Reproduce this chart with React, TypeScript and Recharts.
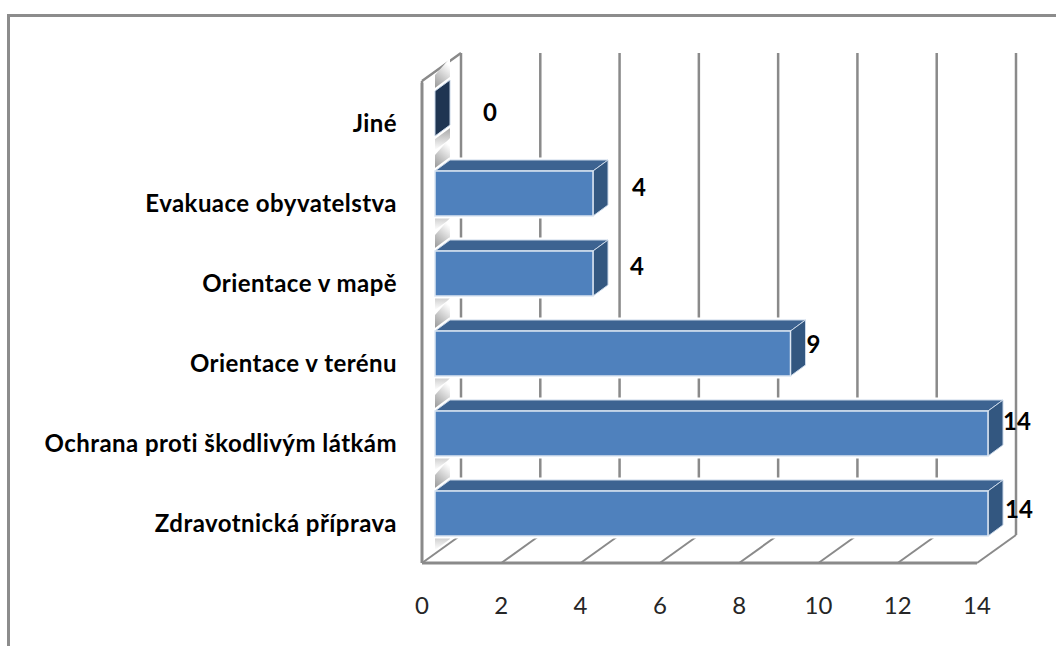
import { Bar, BarChart, CartesianGrid, LabelList, XAxis, YAxis } from "recharts";

const categories = [
  "Jiné",
  "Evakuace obyvatelstva",
  "Orientace v mapě",
  "Orientace v terénu",
  "Ochrana proti škodlivým látkám",
  "Zdravotnická příprava",
];
const counts = [0, 4, 4, 9, 14, 14];
const xTicks = [0, 2, 4, 6, 8, 10, 12, 14];

// the value labels were dragged by hand in the original
const labelNudgeX = [55, 46, 44, 23, 29, 31];
const labelNudgeY = [-2, -7, -8, -10, -13, -5];

const rows = categories.map((name, i) => ({ name, count: counts[i] }));

const FONT = "Lato, Carlito, sans-serif";
const GRID = "#8a8a8a";
// fake 3d: wall depth, and how far the bars sit in from the front plane
const DEPTH_X = 39;
const DEPTH_Y = -28;
const BAR_IN_X = 13;
const BAR_IN_Y = -10;
const BAR_DX = 15;
const BAR_DY = -11;
const BAR_SCALE = 0.9964; // bars sit further back, so they come out a bit shorter
const WALL_EXTRA = 2;

function GridLine(props: any) {
  const { x1, y1, y2 } = props;
  const isZero = x1 < 425;
  const wallTop = y1 - WALL_EXTRA;
  return (
    <g fill="none" stroke={GRID}>
      <path
        d={`M${x1},${y2} L${x1 + DEPTH_X},${y2 + DEPTH_Y}`}
        strokeWidth={2}
      />
      <path
        d={`M${x1 + DEPTH_X},${y2 + DEPTH_Y} L${x1 + DEPTH_X},${wallTop + DEPTH_Y}`}
        strokeWidth={2.5}
      />
      {isZero && (
        <path
          d={`M${x1},${wallTop} L${x1 + DEPTH_X},${wallTop + DEPTH_Y} M${x1},${wallTop} L${x1},${y1}`}
          strokeWidth={2.5}
        />
      )}
    </g>
  );
}

function Bar3D(props: any) {
  const { x, y, width, height } = props;
  const left = x + BAR_IN_X;
  const top = y + BAR_IN_Y;
  const right = left + width * BAR_SCALE;
  const bottom = top + height;
  const sideFill = width === 0 ? "#1f3552" : "#335780";
  return (
    <g>
      {/* shaded patches on the side wall */}
      <path
        d={`M${left},${bottom} L${left + BAR_DX},${bottom + BAR_DY} L${left + BAR_DX},${bottom + BAR_DY + 14} L${left},${bottom + 14} Z`}
        fill="url(#wallShadeBelow)"
      />
      <path
        d={`M${left},${top} L${left + BAR_DX},${top + BAR_DY} L${left + BAR_DX},${top + BAR_DY - 22} L${left},${top - 16} Z`}
        fill="url(#wallShadeAbove)"
      />
      <path
        d={`M${left},${top} L${left + BAR_DX},${top + BAR_DY} L${right + BAR_DX},${top + BAR_DY} L${right + BAR_DX},${bottom + BAR_DY} L${right},${bottom} L${left},${bottom} Z`}
        fill="none"
        stroke="#ffffff"
        strokeWidth={5}
      />
      {width > 0 && (
        <path
          d={`M${left},${top} L${left + BAR_DX},${top + BAR_DY} L${right + BAR_DX},${top + BAR_DY} L${right},${top} Z`}
          fill="#3d6391"
          stroke="#c9d7e8"
          strokeWidth={1}
        />
      )}
      <path
        d={`M${right},${top} L${right + BAR_DX},${top + BAR_DY} L${right + BAR_DX},${bottom + BAR_DY} L${right},${bottom} Z`}
        fill={sideFill}
        stroke="#c9d7e8"
        strokeWidth={1}
      />
      {width > 0 && (
        <rect
          x={left}
          y={top}
          width={right - left}
          height={height}
          fill="#4f81bd"
          stroke="#dce6f2"
          strokeWidth={1.5}
        />
      )}
    </g>
  );
}

function ValueLabel(props: any) {
  const { x, y, width, height, value, index } = props;
  return (
    <text
      x={x + width * BAR_SCALE + BAR_IN_X + labelNudgeX[index]}
      y={y + height / 2 + BAR_IN_Y + labelNudgeY[index]}
      textAnchor="middle"
      dominantBaseline="central"
      fontFamily={FONT}
      fontWeight={700}
      fontSize={24}
      fill="#000000"
    >
      {value}
    </text>
  );
}

export default function App() {
  return (
    <div
      style={{
        position: "absolute",
        left: 0,
        top: 0,
        width: 1056,
        height: 646,
        background: "#ffffff",
        overflow: "hidden",
      }}
    >
      <div
        style={{
          position: "absolute",
          left: 7,
          top: 14,
          width: 1049,
          height: 632,
          boxSizing: "border-box",
          borderTop: "3px solid #8c8c8c",
          borderLeft: "3px solid #8c8c8c",
        }}
      />
      <div style={{ position: "absolute", left: 0, top: 0 }}>
        <BarChart
          width={1056}
          height={646}
          data={rows}
          layout="vertical"
          margin={{ top: 83, right: 79, bottom: 23, left: 22 }}
          barSize={45}
        >
          <defs>
            <linearGradient id="wallShadeBelow" x1="0" y1="0" x2="0" y2="1">
              <stop offset="0%" stopColor="#9c9c9c" />
              <stop offset="100%" stopColor="#ffffff" />
            </linearGradient>
            <linearGradient id="wallShadeAbove" x1="0" y1="1" x2="0.4" y2="0">
              <stop offset="0%" stopColor="#8e8e8e" />
              <stop offset="100%" stopColor="#ffffff" />
            </linearGradient>
          </defs>
          <CartesianGrid horizontal={false} vertical={<GridLine />} />
          <XAxis
            type="number"
            domain={[0, 14]}
            ticks={xTicks}
            interval={0}
            height={60}
            tickLine={false}
            tickMargin={28}
            axisLine={{ stroke: GRID, strokeWidth: 3 }}
            tick={{ fontFamily: FONT, fontSize: 24, fill: "#262626" }}
          />
          <YAxis
            type="category"
            dataKey="name"
            width={400}
            interval={0}
            tickLine={false}
            tickMargin={19}
            axisLine={{ stroke: GRID, strokeWidth: 3 }}
            tick={{
              fontFamily: FONT,
              fontSize: 24,
              fontWeight: 700,
              letterSpacing: 0.45,
              fill: "#000000",
            }}
          />
          <Bar dataKey="count" shape={<Bar3D />} isAnimationActive={false}>
            <LabelList dataKey="count" content={<ValueLabel />} />
          </Bar>
        </BarChart>
      </div>
    </div>
  );
}
